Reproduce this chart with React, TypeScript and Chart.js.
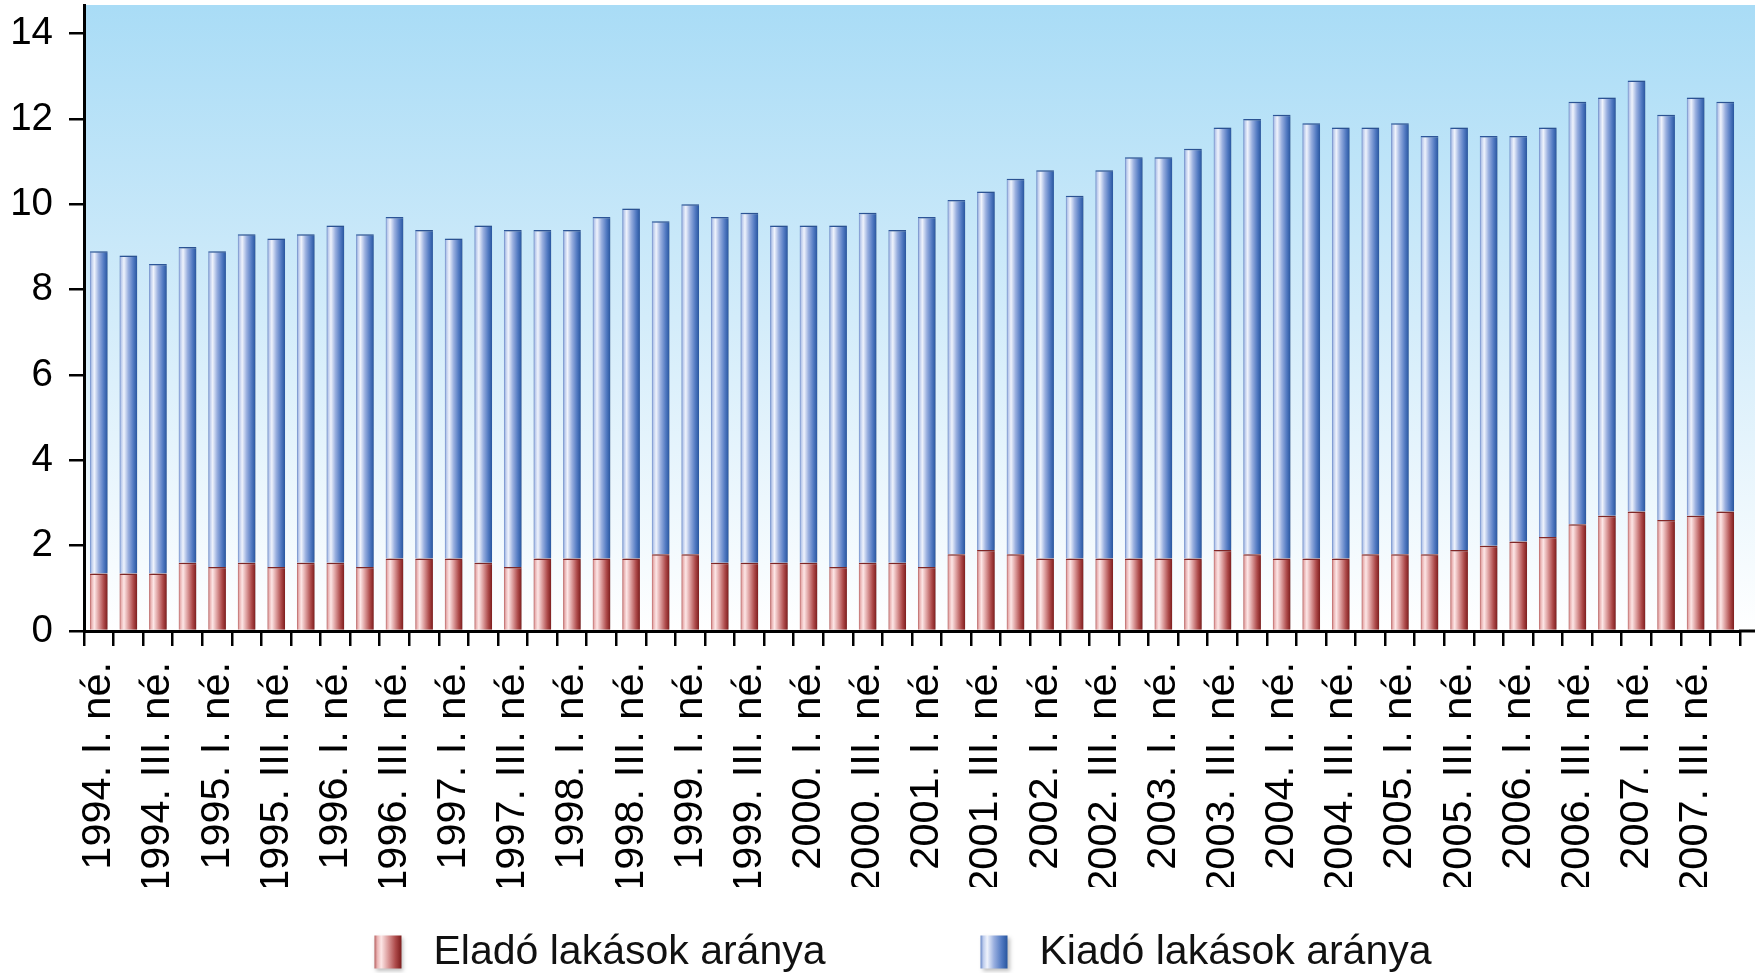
import React, { useEffect, useRef } from 'react';
import { Chart, registerables } from 'chart.js';

Chart.register(...registerables);

const FONT = "'Liberation Sans', Arial, Helvetica, sans-serif";

const years = [1994, 1995, 1996, 1997, 1998, 1999, 2000, 2001, 2002, 2003, 2004, 2005, 2006, 2007];
const quarters = ['I.', 'II.', 'III.', 'IV.'];
const categories: string[] = years.flatMap((y) => quarters.map((q) => `${y}. ${q} né.`));

const seriesNames = ['Eladó lakások aránya', 'Kiadó lakások aránya'];

// Eladó (for-sale) share, bottom segment
const elado = [
  1.35, 1.35, 1.35, 1.6, 1.5, 1.6, 1.5, 1.6, 1.6, 1.5, 1.7, 1.7, 1.7, 1.6,
  1.5, 1.7, 1.7, 1.7, 1.7, 1.8, 1.8, 1.6, 1.6, 1.6, 1.6, 1.5, 1.6, 1.6,
  1.5, 1.8, 1.9, 1.8, 1.7, 1.7, 1.7, 1.7, 1.7, 1.7, 1.9, 1.8, 1.7, 1.7,
  1.7, 1.8, 1.8, 1.8, 1.9, 2.0, 2.1, 2.2, 2.5, 2.7, 2.8, 2.6, 2.7, 2.8,
];

// Kiadó (for-rent) share, top segment
const kiado = [
  7.55, 7.45, 7.25, 7.4, 7.4, 7.7, 7.7, 7.7, 7.9, 7.8, 8.0, 7.7, 7.5, 7.9,
  7.9, 7.7, 7.7, 8.0, 8.2, 7.8, 8.2, 8.1, 8.2, 7.9, 7.9, 8.0, 8.2, 7.8,
  8.2, 8.3, 8.4, 8.8, 9.1, 8.5, 9.1, 9.4, 9.4, 9.6, 9.9, 10.2, 10.4, 10.2,
  10.1, 10.0, 10.1, 9.8, 9.9, 9.6, 9.5, 9.6, 9.9, 9.8, 10.1, 9.5, 9.8, 9.6,
];

const yTicks = [0, 2, 4, 6, 8, 10, 12, 14];

const redStops: [number, string][] = [
  [0, '#b55e5e'], [0.1, '#e9b2b2'], [0.25, '#fde6e6'], [0.5, '#dc9c9c'], [0.78, '#ad4a4a'], [1, '#7c1c1c'],
];
const blueStops: [number, string][] = [
  [0, '#6686c6'], [0.1, '#bccbec'], [0.25, '#eff3fc'], [0.5, '#99afdf'], [0.78, '#527ac2'], [1, '#27559e'],
];

const BAR_PCT = 0.6;

function makeGradient(ctx2d: CanvasRenderingContext2D, x0: number, x1: number, stops: [number, string][]) {
  const g = ctx2d.createLinearGradient(x0, 0, x1, 0);
  stops.forEach(([o, c]) => g.addColorStop(o, c));
  return g;
}

function barFill(stops: [number, string][]) {
  return (c: any) => {
    const chart = c.chart;
    const xs = chart.scales && chart.scales.x;
    if (c.type !== 'data' || !xs || !chart.chartArea) return stops[3][1];
    const cx = xs.getPixelForValue(c.dataIndex);
    const w = (xs.width / categories.length) * BAR_PCT;
    return makeGradient(chart.ctx, cx - w / 2, cx + w / 2, stops);
  };
}

function zeroPadding(scale: any) {
  scale.paddingTop = 0;
  scale.paddingBottom = 0;
  scale.paddingLeft = 0;
  scale.paddingRight = 0;
}

const bgPlugin = {
  id: 'plotBackground',
  beforeDraw(chart: any) {
    const { ctx, chartArea: a } = chart;
    if (!a) return;
    ctx.save();
    const g = ctx.createLinearGradient(0, a.top, 0, a.bottom);
    g.addColorStop(0, '#a9dcf6');
    g.addColorStop(0.5, '#d3ecfa');
    g.addColorStop(1, '#ffffff');
    ctx.fillStyle = g;
    ctx.fillRect(a.left, a.top, a.right - a.left + 15, a.bottom - a.top);
    ctx.restore();
  },
  beforeDatasetsDraw(chart: any) {
    const ctx = chart.ctx;
    ctx.save();
    ctx.shadowColor = 'rgba(0,0,0,0.22)';
    ctx.shadowBlur = 4;
    ctx.shadowOffsetX = 2;
    ctx.shadowOffsetY = 0;
  },
  afterDatasetsDraw(chart: any) {
    chart.ctx.restore();
  },
  afterDraw(chart: any) {
    const { ctx, chartArea: a } = chart;
    ctx.save();
    ctx.strokeStyle = '#000';
    ctx.lineWidth = 3;
    ctx.beginPath();
    ctx.moveTo(a.right - 1, a.bottom);
    ctx.lineTo(a.right + 15, a.bottom);
    ctx.stroke();

    // legend
    ctx.font = `41px ${FONT}`;
    ctx.textBaseline = 'middle';
    ctx.textAlign = 'left';
    const items = [
      { text: seriesNames[0], stops: redStops },
      { text: seriesNames[1], stops: blueStops },
    ];
    const sw = 27;
    const sh = 33;
    const gap = 32;
    const between = 155;
    const widths = items.map((it) => sw + gap + ctx.measureText(it.text).width);
    const total = widths[0] + between + widths[1];
    let x = (chart.width - total) / 2 + 23;
    const cy = chart.height - 21;
    items.forEach((it, i) => {
      ctx.save();
      ctx.shadowColor = 'rgba(0,0,0,0.25)';
      ctx.shadowBlur = 4;
      ctx.shadowOffsetX = 2;
      ctx.shadowOffsetY = 2;
      ctx.fillStyle = makeGradient(ctx, x, x + sw, it.stops);
      ctx.fillRect(x, cy - sh / 2, sw, sh);
      ctx.restore();
      ctx.fillStyle = '#111';
      ctx.fillText(it.text, x + sw + gap, cy + 1);
      x += widths[i] + between;
    });
    ctx.restore();
  },
};

export default function App() {
  const ref = useRef<HTMLCanvasElement | null>(null);

  useEffect(() => {
    if (!ref.current) return;
    const chart = new Chart(ref.current, {
      type: 'bar',
      data: {
        labels: categories,
        datasets: [
          {
            label: seriesNames[0],
            data: elado,
            backgroundColor: barFill(redStops),
            borderColor: '#8a2a2a',
            borderWidth: { top: 1.5, left: 0, right: 0, bottom: 0 },
            borderSkipped: false,
            barPercentage: BAR_PCT,
            categoryPercentage: 1,
          },
          {
            label: seriesNames[1],
            data: kiado,
            backgroundColor: barFill(blueStops),
            borderColor: '#2f5aa0',
            borderWidth: { top: 1.5, left: 0, right: 0, bottom: 0 },
            borderSkipped: false,
            barPercentage: BAR_PCT,
            categoryPercentage: 1,
          },
        ],
      },
      options: {
        animation: false,
        responsive: true,
        maintainAspectRatio: false,
        layout: { padding: { left: 11, top: 5, right: 20, bottom: 86 } },
        plugins: {
          legend: { display: false },
          tooltip: { enabled: false },
        },
        scales: {
          x: {
            stacked: true,
            offset: true,
            afterFit: (scale: any) => {
              zeroPadding(scale);
              scale.height = 256;
            },
            grid: {
              display: true,
              offset: true,
              drawOnChartArea: false,
              drawTicks: true,
              tickLength: 15,
              color: '#000',
              lineWidth: 2.5,
            },
            border: { display: true, color: '#000', width: 3 },
            ticks: {
              autoSkip: false,
              minRotation: 90,
              maxRotation: 90,
              padding: 16,
              color: '#000',
              font: { family: FONT, size: 41.5 },
              callback: (_v: any, i: number) => (i % 2 === 0 ? categories[i] : ''),
            },
          },
          y: {
            stacked: true,
            min: 0,
            max: 14.67,
            afterBuildTicks: (scale: any) => {
              scale.ticks = yTicks.map((v) => ({ value: v }));
            },
            afterFit: (scale: any) => {
              zeroPadding(scale);
              scale.width = 73;
            },
            grid: {
              display: true,
              drawOnChartArea: false,
              drawTicks: true,
              tickLength: 15,
              color: '#000',
              lineWidth: 2.5,
            },
            border: { display: true, color: '#000', width: 3 },
            ticks: {
              padding: 16,
              color: '#000',
              font: { family: FONT, size: 38.5 },
              callback: (v: any) => String(v),
            },
          },
        },
      },
      plugins: [bgPlugin],
    });
    return () => chart.destroy();
  }, []);

  return (
    <div style={{ position: 'fixed', left: 0, top: 0, width: 1760, height: 973, background: '#fff' }}>
      <canvas ref={ref} />
    </div>
  );
}
